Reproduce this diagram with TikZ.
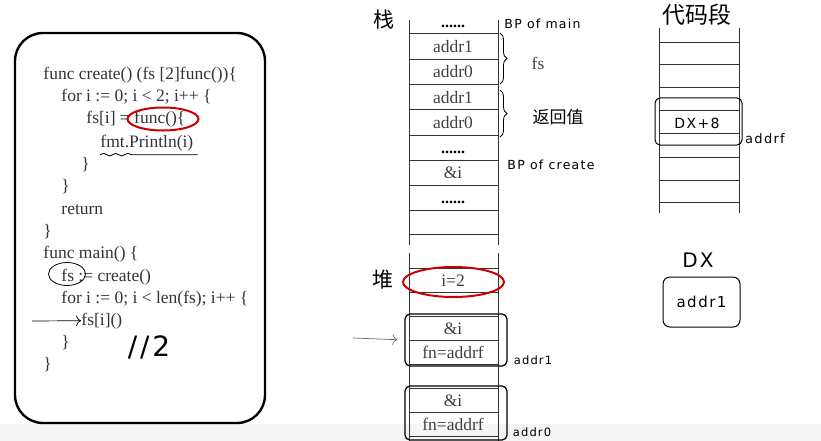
\documentclass[tikz,border=0pt]{standalone}
\usepackage{fontspec}
\setmainfont{Liberation Serif}
\newfontfamily\cjkfont{Noto Sans CJK SC}
\newfontfamily\handfont[LetterSpace=10]{DejaVu Sans}
\usetikzlibrary{arrows.meta,positioning,shapes.geometric,decorations.pathreplacing,decorations.pathmorphing}

\tikzset{
  codeline/.style={anchor=base west, inner sep=0pt, text=black!80, font=\fontsize{17.5}{20}\selectfont},
  cellt/.style={inner sep=0pt, text=black!75, font=\fontsize{17.5}{20}\selectfont},
  dots/.style={anchor=base, inner sep=0pt, font=\bfseries\fontsize{16}{18}\selectfont},
  tag/.style={inner sep=0pt, font=\handfont\fontsize{12.5}{14}\selectfont},
  hanzi/.style={inner sep=0pt, font=\cjkfont\fontsize{21}{24}\selectfont},
  hoop/.style={ellipse, draw=red!80!black, line width=2pt, inner sep=0pt},
  slot/.style={draw, rounded corners=5pt, line width=1.3pt, inner sep=0pt}
}

\begin{document}
\begin{tikzpicture}[x=1pt, y=-1pt, line width=0.9pt]
  \useasboundingbox (0,0) rectangle (821,441);
  \fill[black!4] (0,424) rectangle (821,441);

  % Code panel on the left
  \node[
    draw,
    line width=2.4pt,
    rounded corners=28pt,
    minimum width=250pt,
    minimum height=390pt,
    inner sep=0pt
  ] (panel) at (140,228) {};

  \node[codeline] (l1) at (43,80) {func create() (fs [2]func())\{};
  \node[codeline] (l2) at (61,102) {for i := 0; i < 2; i++ \{};
  \node[codeline] (l3) at (86,124) {fs[i] = func()\{};
  \node[codeline] (l4) at (100,147) {fmt.Println(i)};
  \node[codeline] (l5) at (81,169) {\}};
  \node[codeline] (l6) at (61,191) {\}};
  \node[codeline] (l7) at (61,214) {return};
  \node[codeline] (l8) at (43,236) {\}};
  \node[codeline] (l9) at (43,258) {func main() \{};
  \node[codeline] (l10) at (61,281) {fs := create()};
  \node[codeline] (l11) at (61,303) {for i := 0; i < len(fs); i++ \{};
  \node[codeline] (l12) at (81,325) {fs[i]()};
  \node[codeline] (l13) at (61,347) {\}};
  \node[codeline] (l14) at (43,369) {\}};

  % marks on the code
  \node[hoop, minimum width=71pt, minimum height=23pt] (ringfunc) at (163,119) {};
  \node[ellipse, draw, line width=0.8pt, minimum width=37pt, minimum height=23pt] (ringfs) at (67,274) {};
  \draw[line width=0.8pt, decorate,
    decoration={snake, amplitude=1.3pt, segment length=12pt, post length=66pt}]
    ([yshift=-3.5pt]l4.south west) -- ([xshift=4pt,yshift=-3.5pt]l4.south east);
  \coordinate (cue) at (32,321);
  \draw[-{To[length=5pt]}, line width=0.7pt] (cue) -- (l12.west);
  \node[inner sep=0pt, font=\handfont\fontsize{28}{30}\selectfont] (halves) at (149,347) {//2};

  % Stack
  \node[hanzi] (stacktitle) at (384,20) {栈};
  \draw[black!80] (409,20) -- (409,245) (498,20) -- (498,245);
  \foreach \y in {33,59,84,109,135,160,185,210,234}
    \draw[black!80] (409,\y) -- (498,\y);
  \node[dots] (s0) at (453,28) {......};
  \node[cellt] (s1) at (453,47) {addr1};
  \node[cellt] (s2) at (453,72) {addr0};
  \node[cellt] (s3) at (453,98) {addr1};
  \node[cellt] (s4) at (453,123) {addr0};
  \node[dots] (s5) at (453,153) {......};
  \node[cellt] (s6) at (453,173) {\&i};
  \node[dots] (s7) at (453,203) {......};
  \node[tag, anchor=west] (bpmain) at (504,24) {BP of main};
  \node[tag, anchor=west] (bpcreate) at (507,165) {BP of create};
  \draw[line width=0.8pt, decorate, decoration={brace, amplitude=7pt}] (500,33) -- (500,84);
  \draw[line width=0.8pt, decorate, decoration={brace, amplitude=7pt}] (500,90) -- (500,137);
  \node[cellt] (fslabel) at (538,63) {fs};
  \node[hanzi, font=\cjkfont\fontsize{17}{20}\selectfont] (retlabel) at (558,117) {返回值};

  % Heap
  \node[hanzi] (heaptitle) at (383,280) {堆};
  \draw[black!80] (409,253) -- (409,441) (498,253) -- (498,441);
  \foreach \y in {268,292,316,340,364,388,412,436}
    \draw[black!80] (409,\y) -- (498,\y);
  \node[cellt] (h0) at (453,281) {i=2};
  \node[hoop, minimum width=101pt, minimum height=30pt] (ringi) at (453.5,282) {};
  \node[cellt] (h1) at (453,329) {\&i};
  \node[cellt] (h2) at (453,352) {fn=addrf};
  \node[cellt] (h3) at (453,401) {\&i};
  \node[cellt] (h4) at (453,424) {fn=addrf};
  \node[slot, minimum width=102pt, minimum height=52pt] (obj1) at (456,340) {};
  \node[slot, minimum width=102pt, minimum height=54pt] (obj0) at (456,413) {};
  \node[tag, font=\handfont\fontsize{11.5}{13}\selectfont] (objaddr1) at (533,360) {addr1};
  \node[tag, font=\handfont\fontsize{11.5}{13}\selectfont] (objaddr0) at (532,432) {addr0};
  \coordinate (ptr) at (353,338);
  \draw[-{To[length=5pt]}, black!60, line width=0.7pt, shorten >=7pt] (ptr) -- (obj1.west);

  % Code segment
  \node[hanzi, font=\cjkfont\fontsize{23}{26}\selectfont] (texttitle) at (697,15) {代码段};
  \draw[black!80] (659,28) -- (659,213) (739,28) -- (739,213);
  \foreach \y in {42,64,87,110,133,157,180,202}
    \draw[black!80] (659,\y) -- (739,\y);
  \node[tag, font=\handfont\fontsize{14}{16}\selectfont] (dxeight) at (697,123) {DX+8};
  \node[slot, line width=1pt, minimum width=87pt, minimum height=47pt] (fbox) at (698.5,121.5) {};
  \node[tag, font=\handfont\fontsize{13}{15}\selectfont] (addrf) at (765,139) {addrf};

  % DX register
  \node[tag, font=\handfont\fontsize{20}{22}\selectfont] (dxlabel) at (698,260) {DX};
  \node[slot, line width=1pt, rounded corners=7pt, minimum width=77pt, minimum height=50pt,
    font=\handfont\fontsize{15}{17}\selectfont] (dxbox) at (701.5,302) {addr1};
\end{tikzpicture}
\end{document}
